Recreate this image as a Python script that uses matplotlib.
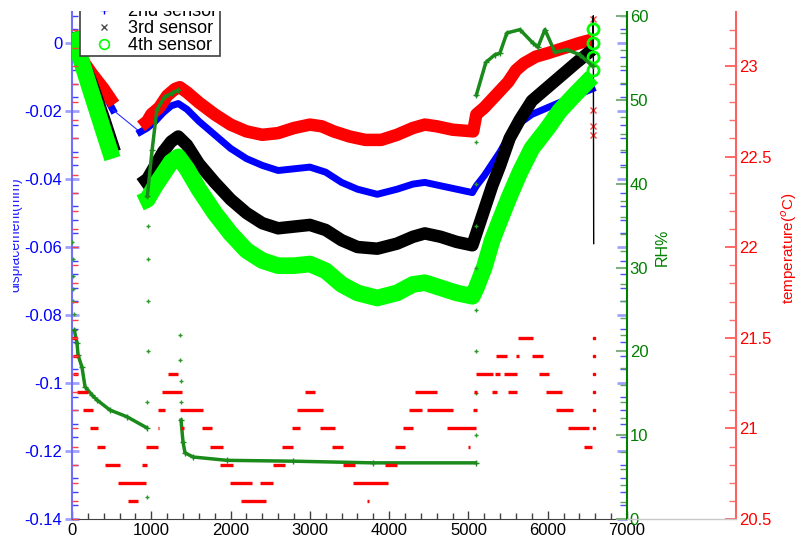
import numpy as np
import matplotlib
matplotlib.use("Agg")
import matplotlib.pyplot as plt
from matplotlib.lines import Line2D
from matplotlib.ticker import MultipleLocator, FuncFormatter
from matplotlib.transforms import Bbox, TransformedBbox

plt.rcParams['font.family'] = ['Liberation Sans', 'DejaVu Sans']

# ---------------- data ----------------
# 1st sensor (red), left axis
s1_tA = [0, 100, 250, 400, 530]
s1_vA = [0.0, -0.004, -0.009, -0.0135, -0.018]
s1_tB = [870, 950, 1000, 1100, 1200, 1300, 1360, 1450, 1600, 1800,
         2000, 2200, 2400, 2600, 2800, 3000, 3150, 3300, 3500, 3700,
         3900, 4100, 4300, 4450, 4600, 4800, 5060, 5100, 5200, 5300,
         5400, 5500, 5600, 5700, 5850, 6000, 6200, 6400, 6560]
s1_vB = [-0.0245, -0.023, -0.021, -0.019, -0.0155, -0.0135, -0.013, -0.0145, -0.0175, -0.021,
         -0.024, -0.026, -0.027, -0.0265, -0.025, -0.024, -0.0245, -0.026, -0.0275, -0.0285,
         -0.0285, -0.027, -0.025, -0.024, -0.0245, -0.0255, -0.026, -0.021, -0.019, -0.0165,
         -0.014, -0.0115, -0.008, -0.006, -0.004, -0.003, -0.0015, 0.0, 0.001]
s1_end_t = [6575, 6575, 6575, 6575]
s1_end_v = [0.007, -0.0197, -0.0244, -0.027]

# 2nd sensor (blue)
s2_tA = [0, 100, 250, 400, 517]
s2_vA = [0.0, -0.004, -0.0095, -0.0145, -0.0197]
s2_tB = [860, 950, 1050, 1150, 1250, 1340, 1450, 1600, 1800, 2000,
         2200, 2400, 2600, 2800, 3000, 3200, 3400, 3600, 3850, 4100,
         4300, 4450, 4650, 4850, 5050, 5100, 5200, 5300, 5400, 5520,
         5650, 5800, 6000, 6150, 6350, 6560]
s2_vB = [-0.0262, -0.025, -0.023, -0.0205, -0.0185, -0.0178, -0.0195, -0.023, -0.027, -0.031,
         -0.034, -0.036, -0.0375, -0.037, -0.0365, -0.038, -0.041, -0.043, -0.0445, -0.043,
         -0.0415, -0.041, -0.042, -0.043, -0.044, -0.042, -0.039, -0.0355, -0.032, -0.027,
         -0.0235, -0.021, -0.019, -0.0175, -0.0155, -0.0135]

# 3rd sensor (black)
s3_tA = [0, 100, 250, 400, 540]
s3_vA = [0.003, -0.003, -0.012, -0.022, -0.032]
s3_tB = [860, 950, 1050, 1150, 1250, 1340, 1450, 1600, 1800, 2000,
         2200, 2400, 2600, 2800, 3000, 3200, 3400, 3600, 3850, 4100,
         4300, 4450, 4650, 4850, 5050, 5100, 5200, 5300, 5400, 5520,
         5650, 5800, 6000, 6150, 6350, 6560]
s3_vB = [-0.0415, -0.040, -0.036, -0.032, -0.029, -0.0275, -0.030, -0.0355, -0.041, -0.046,
         -0.050, -0.053, -0.0545, -0.054, -0.0535, -0.055, -0.058, -0.060, -0.0605, -0.059,
         -0.057, -0.056, -0.057, -0.0585, -0.0595, -0.056, -0.049, -0.042, -0.036, -0.028,
         -0.0225, -0.017, -0.013, -0.010, -0.006, -0.002]
s3_end_t = [6560, 6575, 6580]
s3_end_v = [-0.002, 0.008, -0.059]

# 4th sensor (lime)
s4_tA = [0, 100, 250, 400, 510]
s4_vA = [0.003, -0.004, -0.015, -0.026, -0.034]
s4_tB = s3_tB
s4_vB = [-0.047, -0.046, -0.042, -0.0385, -0.035, -0.0335, -0.037, -0.043, -0.050, -0.056,
         -0.061, -0.064, -0.0655, -0.0655, -0.065, -0.067, -0.071, -0.0735, -0.075, -0.0735,
         -0.071, -0.0705, -0.072, -0.0735, -0.0745, -0.072, -0.066, -0.058, -0.052, -0.045,
         -0.038, -0.031, -0.025, -0.020, -0.015, -0.010]
s4_end_t = [6575, 6575, 6575, 6575]
s4_end_v = [-0.008, -0.004, 0.0, 0.004]

# relative humidity (%)
rh_t1 = [30, 63, 76, 126, 164, 252, 315, 479, 694, 940]
rh_v1 = [22.5, 21.0, 19.6, 18.1, 15.8, 14.8, 14.2, 13.0, 12.2, 10.9]
rh_dots_t = [5, 8, 11, 14, 18, 22, 950, 952, 954, 956, 958, 960,
             1365, 1367, 1369, 1371,
             5092, 5093, 5094, 5095, 5096, 5097, 5098, 5099]
rh_dots_v = [33, 31, 29, 27.5, 26, 24.5, 2.6, 14, 20, 26, 31, 35,
             22, 19, 16.5, 14,
             10, 15, 20, 25, 30, 35, 40, 45]
rh_t2 = [950, 1010, 1070, 1170, 1260, 1340]
rh_v2 = [38.5, 44, 48.8, 50.4, 50.8, 51.2]
rh_t3 = [1375, 1400, 1425, 1526, 1955, 2787, 3796, 5090]
rh_v3 = [11.8, 9.2, 7.9, 7.4, 7.0, 6.9, 6.7, 6.7]
rh_t4 = [5100, 5220, 5334, 5397, 5485, 5650, 5813, 5876, 5965, 6091, 6242, 6406, 6570]
rh_v4 = [50.6, 54.5, 55.4, 55.6, 58.0, 58.4, 56.8, 56.3, 58.4, 55.7, 56.0, 55.4, 54.0]

# temperature (degC) - constant-reading runs: start, end, level
temp_start = [5, 10, 15, 63, 139, 227, 315, 416, 580, 706,
              883, 933, 1080, 1085, 1135, 1211, 1362, 1375, 1639, 1740,
              1866, 1992, 2131, 2371, 2535, 2648, 2774, 2837, 2938, 3127,
              3279, 3417, 3543, 3725, 3947, 4073, 4174, 4250, 4325, 4477,
              4729, 4994, 5057, 5069, 5094, 5296, 5334, 5347, 5448, 5498,
              5599, 5624, 5801, 5889, 5977, 6103, 6255, 6456]
temp_end = [60, 75, 75, 200, 265, 328, 416, 605, 933, 832,
            946, 1085, 1095, 1173, 1387, 1337, 1652, 1412, 1765, 1904,
            2030, 2270, 2446, 2535, 2686, 2787, 2875, 3165, 3064, 3316,
            3417, 3569, 3985, 3740, 4098, 4199, 4300, 4414, 4603, 4805,
            5094, 5019, 5107, 5107, 5309, 5359, 5397, 5485, 5612, 5612,
            5637, 5813, 5939, 6015, 6179, 6318, 6519, 6557]
temp_level = [21.5, 21.4, 21.3, 21.2, 21.1, 21.0, 20.9, 20.8, 20.7, 20.6,
              20.8, 20.9, 21.0, 21.1, 21.2, 21.3, 21.1, 21.0, 21.0, 20.9,
              20.8, 20.7, 20.6, 20.7, 20.8, 20.9, 21.0, 21.1, 21.2, 21.0,
              20.9, 20.8, 20.7, 20.6, 20.8, 20.9, 21.0, 21.1, 21.2, 21.1,
              21.0, 20.9, 21.1, 21.2, 21.3, 21.2, 21.3, 21.4, 21.3, 21.2,
              21.4, 21.5, 21.4, 21.3, 21.2, 21.1, 21.0, 20.9]
temp_dot_t = [6580, 6580, 6580, 6580, 6580, 6580]
temp_dot_v = [21.0, 21.1, 21.2, 21.3, 21.4, 21.5]

legend_labels = ['1st sensor', '2nd sensor', '3rd sensor', '4th sensor']

# ---------------- figure ----------------
W, H = 807, 541
fig = plt.figure(figsize=(W / 100, H / 100), dpi=100)
L, R, B, T = 72, 627, 519, 12
ax = fig.add_axes([L / W, 1 - B / H, (R - L) / W, (B - T) / H])

ylo, yhi = -0.14, (43 - T) / 3400.0
ax.set_xlim(0, 7000)
ax.set_ylim(ylo, yhi)

# sensors
ax.plot(s2_tA, s2_vA, color='#0000ff', lw=5, zorder=2)
ax.plot([s2_tA[-1], s2_tB[0]], [s2_vA[-1], s2_vB[0]], color='#3030ff', lw=0.8, zorder=2)
ax.plot(s2_tB, s2_vB, color='#0000ff', lw=5, zorder=2)
ax.plot(s1_tA, s1_vA, color='#ff0000', lw=9, zorder=3, solid_capstyle='butt')
ax.plot(s1_tB, s1_vB, color='#ff0000', lw=9, zorder=3, solid_capstyle='butt')
ax.plot(s1_end_t, s1_end_v, ls='none', marker='x', color='#ff4040', ms=4, zorder=3)
ax.plot(s3_tA, s3_vA, color='#000000', lw=9, zorder=4, solid_capstyle='butt')
ax.plot(s3_tB, s3_vB, color='#000000', lw=9, zorder=4, solid_capstyle='butt')
ax.plot(s3_end_t, s3_end_v, color='#000000', lw=1, zorder=4)
ax.plot(s4_tA, s4_vA, color='#00ff00', lw=12, zorder=5, solid_capstyle='butt')
ax.plot(s4_tB, s4_vB, color='#00ff00', lw=12, zorder=5, solid_capstyle='butt')
ax.plot(s4_end_t, s4_end_v, ls='none', marker='o', mfc='none', mec='#00ff00', ms=8, mew=2, zorder=5)

# left axis styling
ax.spines['top'].set_visible(False)
ax.spines['right'].set_visible(False)
ax.spines['left'].set_color('#7070ff')
ax.spines['left'].set_linewidth(1.5)
ax.spines['bottom'].set_color('#404040')
ax.yaxis.set_major_locator(MultipleLocator(0.02))
ax.yaxis.set_minor_locator(MultipleLocator(0.004))
ax.yaxis.set_major_formatter(FuncFormatter(lambda v, p: '0' if abs(v) < 1e-9 else '%g' % round(v, 4)))
ax.tick_params(axis='y', which='major', direction='inout', length=10, width=2,
               color='#a0a0ff', labelcolor='#0000ff', labelsize=12, pad=2)
ax.tick_params(axis='y', which='minor', direction='in', length=4, width=1, color='#4040ff')
ax.xaxis.set_major_locator(MultipleLocator(1000))
ax.xaxis.set_minor_locator(MultipleLocator(200))
ax.tick_params(axis='x', which='major', direction='in', length=6, width=1,
               color='#404040', labelcolor='black', labelsize=12, pad=3)
ax.tick_params(axis='x', which='minor', direction='in', length=4, width=1, color='#404040')

# mirrored left-axis ticks on right spine
axm = ax.twinx()
axm.set_ylim(ylo, yhi)
for s in axm.spines.values():
    s.set_visible(False)
axm.yaxis.set_major_locator(MultipleLocator(0.02))
axm.yaxis.set_minor_locator(MultipleLocator(0.004))
axm.tick_params(axis='y', which='both', direction='in', labelright=False, color='#5050ff')
axm.tick_params(axis='y', which='major', length=7, width=2, color='#a0a0ff')
axm.tick_params(axis='y', which='minor', length=5, width=1)

# RH axis
ax_rh = ax.twinx()
ax_rh.set_ylim(0, (B - T) / 83.8 * 10)
for k in ['top', 'left', 'bottom']:
    ax_rh.spines[k].set_visible(False)
ax_rh.spines['right'].set_color('#008000')
ax_rh.spines['right'].set_linewidth(1.5)
for tt, vv in [(rh_t1, rh_v1), (rh_t2, rh_v2), (rh_t3, rh_v3), (rh_t4, rh_v4)]:
    ax_rh.plot(tt, vv, color='#1a8a1a', lw=2.5, marker='+', ms=4, zorder=3)
ax_rh.plot(rh_dots_t, rh_dots_v, ls='none', color='#2a9a2a', marker='+', ms=3, mew=1, zorder=3)
ax_rh.yaxis.set_major_locator(MultipleLocator(10))
ax_rh.yaxis.set_minor_locator(MultipleLocator(2))
ax_rh.tick_params(axis='y', which='major', direction='in', length=8, width=1.5,
                  color='#80b080', labelcolor='#008000', labelsize=12, pad=2)
ax_rh.tick_params(axis='y', which='minor', direction='in', length=5, width=1, color='#60a060')
ax_rh.set_ylabel('RH%', color='#008000', fontsize=11.5)
ax_rh.yaxis.set_label_coords((655 - L) / (R - L), (B - 247) / (B - T))

# temperature axis
tlo, thi = 20.5, 20.5 + (B - T) / 181.2
ax_t = ax.twinx()
ax_t.set_ylim(tlo, thi)
for k in ['top', 'left', 'bottom']:
    ax_t.spines[k].set_visible(False)
ax_t.spines['right'].set_position(('axes', (736 - L) / (R - L)))
ax_t.spines['right'].set_color('#ff6060')
ax_t.spines['right'].set_linewidth(1.5)
ax_t.hlines(temp_level, temp_start, temp_end, color='#ff0000', lw=2.4, zorder=4)
ax_t.plot(temp_dot_t, temp_dot_v, ls='none', marker='s', ms=2, color='#ff0000', zorder=4)
ax_t.yaxis.set_major_locator(MultipleLocator(0.5))
ax_t.yaxis.set_minor_locator(MultipleLocator(0.1))
ax_t.yaxis.set_major_formatter(FuncFormatter(lambda v, p: '%g' % round(v, 2)))
ax_t.tick_params(axis='y', which='major', direction='in', length=8, width=1.2,
                 color='#ff5050', labelcolor='#ff0000', labelsize=12, pad=2)
ax_t.tick_params(axis='y', which='minor', direction='in', length=5, width=1, color='#ff7070')
ax_t.set_ylabel('temperature($^{o}$C)', color='#ff0000', fontsize=11)
ax_t.yaxis.set_label_coords((779 - L) / (R - L), (B - 248) / (B - T))

# mirrored temperature ticks on the left spine
axtm = ax.twinx()
axtm.set_ylim(tlo, thi)
for s in axtm.spines.values():
    s.set_visible(False)
axtm.yaxis.tick_left()
axtm.yaxis.set_minor_locator(MultipleLocator(0.1))
axtm.yaxis.set_major_locator(MultipleLocator(0.5))
axtm.tick_params(axis='y', which='both', direction='in', labelleft=False, labelright=False,
                 length=4, width=1, color='#ff4040')

# gray baseline continuing under the temperature axis
fig.add_artist(Line2D([R / W, 736 / W], [1 - B / H, 1 - B / H], color='#c8c8c8', lw=1))

# clipped left label
ylab = fig.text(15 / W, 1 - 235 / H, 'displacement(mm)', rotation=90, color='#2020ff',
                fontsize=10, ha='center', va='center')
ylab.set_clip_box(TransformedBbox(Bbox.from_extents(13 / W, 0, 40 / W, 1), fig.transFigure))
ylab.set_clip_on(True)

# legend (clipped at the top of the plotting area like the reference)
handles = [
    Line2D([], [], ls='none', marker='*', color='#ff0000', ms=6),
    Line2D([], [], ls='none', marker='+', color='#0000ff', ms=6),
    Line2D([], [], ls='none', marker='x', color='#505050', ms=4),
    Line2D([], [], ls='none', marker='o', mfc='none', mec='#00ff00', ms=7, mew=1.2),
]
leg = ax_t.legend(handles, legend_labels, loc='lower left',
                  bbox_to_anchor=(80 / W, 1 - 56 / H), bbox_transform=fig.transFigure,
                  borderaxespad=0, fontsize=13, labelspacing=0.0, handlelength=2.4,
                  handletextpad=0.15, borderpad=0.12, fancybox=False, framealpha=1,
                  edgecolor='#404040')
leg.get_frame().set_linewidth(1.2)
clipbb = TransformedBbox(Bbox.from_extents(0, 0, 1, 1 - 11 / H), fig.transFigure)
for a in [leg.get_frame()] + list(leg.get_texts()) + list(leg.legend_handles):
    a.set_clip_box(clipbb)
    a.set_clip_on(True)

fig.savefig('out.png', dpi=100, facecolor='white')
